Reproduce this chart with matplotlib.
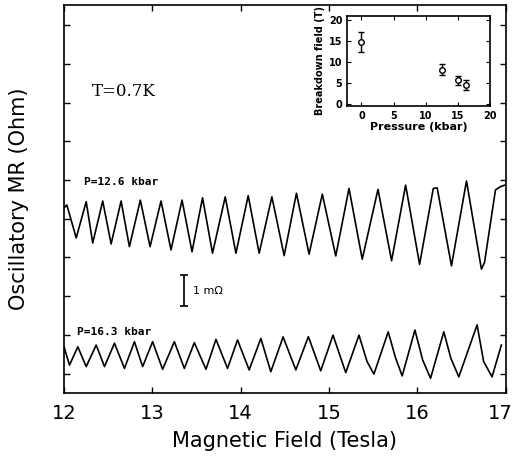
import matplotlib
matplotlib.use("Agg")
import matplotlib.pyplot as plt
import matplotlib.transforms as mtransforms
import numpy as np

# Upper trace, P = 12.6 kbar (field in T, signal in mOhm, offset arbitrary)
field_126 = [12.00, 12.032, 12.138, 12.251, 12.325, 12.438, 12.533, 12.646, 12.740,
             12.864, 12.974, 13.098, 13.211, 13.336, 13.449, 13.568, 13.681, 13.825,
             13.946, 14.085, 14.209, 14.353, 14.492, 14.631, 14.774, 14.924, 15.076,
             15.226, 15.376, 15.554, 15.708, 15.867, 16.025, 16.18, 16.224, 16.386,
             16.556, 16.725, 16.76, 16.884, 16.940, 16.99]
mr_126 = [6.17, 6.27, 5.17, 6.38, 5.00, 6.40, 4.97, 6.40, 4.88,
          6.43, 4.88, 6.40, 4.77, 6.43, 4.71, 6.51, 4.66, 6.54,
          4.66, 6.58, 4.66, 6.54, 4.58, 6.66, 4.63, 6.63, 4.57,
          6.82, 4.46, 6.79, 4.41, 6.93, 4.29, 6.82, 6.84, 4.24,
          7.07, 4.13, 4.35, 6.77, 6.88, 6.93]

# Lower trace, P = 16.3 kbar
field_163 = [12.00, 12.062, 12.156, 12.251, 12.364, 12.458, 12.571, 12.684, 12.797,
             12.890, 13.003, 13.116, 13.249, 13.362, 13.475, 13.607, 13.720, 13.851,
             13.964, 14.096, 14.228, 14.341, 14.480, 14.624, 14.766, 14.906, 15.045,
             15.189, 15.339, 15.43, 15.508, 15.670, 15.75, 15.828, 15.972, 16.06,
             16.149, 16.299, 16.38, 16.469, 16.676, 16.75, 16.845, 16.951]
mr_163 = [1.54, 0.93, 1.54, 0.88, 1.60, 0.88, 1.66, 0.82, 1.71,
          0.88, 1.71, 0.79, 1.71, 0.82, 1.68, 0.79, 1.79, 0.82,
          1.77, 0.77, 1.82, 0.71, 1.87, 0.77, 1.88, 0.74, 1.93,
          0.68, 1.93, 1.05, 0.63, 2.04, 1.20, 0.57, 2.10, 1.10,
          0.49, 2.04, 1.15, 0.54, 2.27, 1.05, 0.54, 1.60]

# Inset: breakdown field vs pressure
pressure = [0.0, 12.6, 15.0, 16.3]
breakdown = [14.7, 8.2, 5.6, 4.5]
breakdown_err = [2.4, 1.3, 1.1, 1.2]

fig = plt.figure(figsize=(5.13, 4.69), dpi=100)

# Main panel
ax = fig.add_axes([0.1248, 0.162, 0.861, 0.827])
ax.plot(field_126, mr_126, color="black", lw=1.2)
ax.plot(field_163, mr_163, color="black", lw=1.2)
ax.set_xlim(12, 17)
ax.set_ylim(0, 12.93)
ax.set_xticks([12, 13, 14, 15, 16, 17])
ax.set_yticks(np.arange(0.65, 12.9, 1.29))
ax.set_yticklabels([])
ax.tick_params(direction="in", top=True, right=True, length=4, width=1)
ax.tick_params(axis="x", labelsize=14, pad=8)
for s in ax.spines.values():
    s.set_linewidth(1.2)
ax.set_xlabel("Magnetic Field (Tesla)", fontsize=15, labelpad=6)
ax.set_ylabel("Oscillatory MR (Ohm)", fontsize=15, labelpad=22)

# keep the last tick label inside the figure
last = ax.get_xticklabels()[-1]
last.set_transform(last.get_transform() +
                   mtransforms.ScaledTranslation(-4 / 72, 0, fig.dpi_scale_trans))

ax.text(12.31, 9.9, "T=0.7K", fontsize=12, family="DejaVu Serif")
ax.text(12.23, 6.95, "P=12.6 kbar", fontsize=8, family="DejaVu Sans Mono",
        fontweight="bold")
ax.text(12.15, 1.95, "P=16.3 kbar", fontsize=8, family="DejaVu Sans Mono",
        fontweight="bold")

# 1 mOhm scale bar
ax.errorbar([13.36], [3.415], yerr=[0.515], fmt="none", ecolor="black",
            elinewidth=1.2, capsize=3, capthick=1.2)
ax.text(13.46, 3.4, "1 m\u03a9", fontsize=8, va="center")

# Inset
ins = fig.add_axes([0.677, 0.774, 0.278, 0.192])
ins.errorbar(pressure, breakdown, yerr=breakdown_err, fmt="o", mfc="white",
             mec="black", ms=4, mew=1, ecolor="black", elinewidth=1,
             capsize=2.5, capthick=1)
ins.set_xlim(-2.2, 20)
ins.set_ylim(-0.5, 21)
ins.set_xticks([0, 5, 10, 15, 20])
ins.set_yticks([0, 5, 10, 15, 20])
ins.tick_params(direction="in", top=True, right=True, length=3, labelsize=7)
for lab in ins.get_xticklabels() + ins.get_yticklabels():
    lab.set_fontweight("bold")
for s in ins.spines.values():
    s.set_linewidth(1.2)
ins.set_xlabel("Pressure (kbar)", fontsize=8, fontweight="bold", labelpad=1)
ins.set_ylabel("Breakdown field (T)", fontsize=7, fontweight="bold", labelpad=3)

fig.savefig("out.png", dpi=100)
